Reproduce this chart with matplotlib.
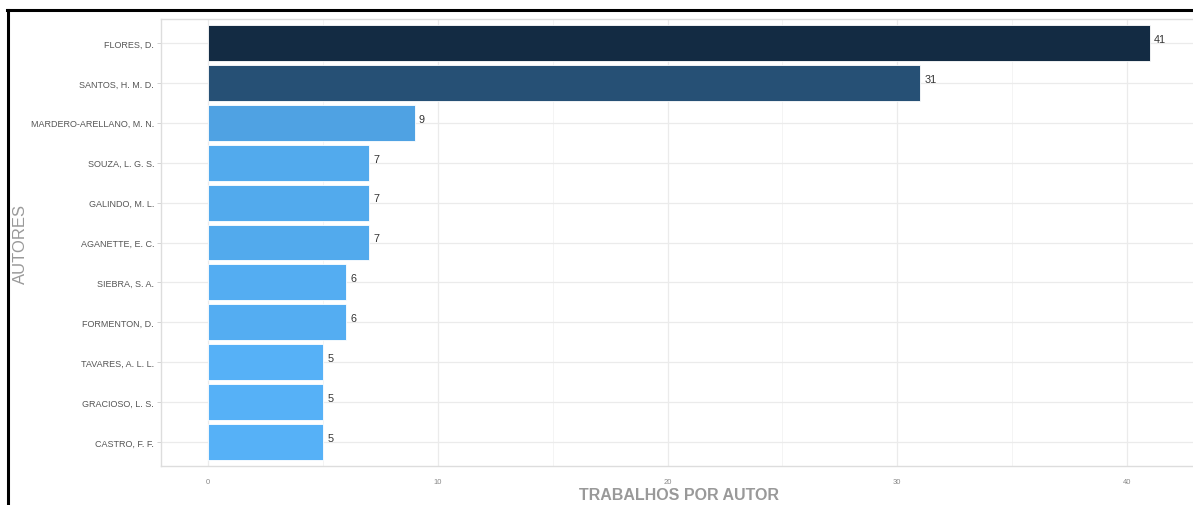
import numpy as np
import matplotlib
matplotlib.use("Agg")
import matplotlib.pyplot as plt
from matplotlib.colors import LinearSegmentedColormap, Normalize
from matplotlib.lines import Line2D

authors = [
    "FLORES, D.", "SANTOS, H. M. D.", "MARDERO-ARELLANO, M. N.", "SOUZA, L. G. S.",
    "GALINDO, M. L.", "AGANETTE, E. C.", "SIEBRA, S. A.", "FORMENTON, D.",
    "TAVARES, A. L. L.", "GRACIOSO, L. S.", "CASTRO, F. F.",
]
works = [41, 31, 9, 7, 7, 7, 6, 6, 5, 5, 5]
xticks = [0, 10, 20, 30, 40]

W, H = 1193, 506
fig = plt.figure(figsize=(W / 100, H / 100), dpi=100)
fig.patch.set_facecolor("white")

# panel in pixels: left 161, right ~1197 (cut off by the screenshot), top 20, bottom 467
ax = fig.add_axes([161 / W, (H - 467) / H, (1197 - 161) / W, (467 - 20) / H])

cmap = LinearSegmentedColormap.from_list("gg", ["#56B1F7", "#132B43"])
norm = Normalize(vmin=min(works), vmax=max(works))

n = len(authors)
ypos = np.arange(n)[::-1] + 1
ax.barh(ypos, works, height=0.9, color=[cmap(norm(v)) for v in works],
        edgecolor="white", linewidth=0.6, zorder=3)

sans = ["Liberation Sans", "DejaVu Sans"]
for y, v in zip(ypos, works):
    ax.annotate(str(v), (v, y), xytext=(3, 3), textcoords="offset points",
                ha="left", va="center", fontsize=7.8, color="#333333",
                family=sans, zorder=4)

ax.set_xlim(-2.05, 43.05)
ax.set_ylim(0.4, n + 0.6)
ax.set_yticks(ypos)
ax.set_yticklabels(authors, family=sans, fontsize=6.5, color="#555555")
ax.set_xticks(xticks)
ax.set_xticklabels([str(t) for t in xticks], family=sans, fontsize=5.5, color="#888888")
ax.set_xticks([5, 15, 25, 35], minor=True)

ax.grid(True, which="major", color="#EBEBEB", linewidth=0.9, zorder=0)
ax.grid(True, which="minor", axis="x", color="#F3F3F3", linewidth=0.6, zorder=0)
ax.set_axisbelow(True)

ax.tick_params(axis="y", length=3, width=0.6, color="#CCCCCC", pad=2)
ax.tick_params(axis="x", which="both", length=0, pad=9)

for side in ["left", "bottom", "top"]:
    ax.spines[side].set_color("#DDDDDD")
    ax.spines[side].set_linewidth(1.0)
ax.spines["right"].set_visible(False)

ax.set_xlabel("TRABALHOS POR AUTOR", fontsize=11.5, fontweight="bold", color="#999999",
              family=sans, labelpad=1)
ax.set_ylabel("AUTORES", fontsize=12, color="#999999", family=sans)
ax.yaxis.set_label_coords(-(161 - 28) / (1197 - 161), 0.5)

# black frame lines from the screenshot (top and left)
fig.add_artist(Line2D([7 / W, 1.0], [(H - 11) / H, (H - 11) / H], color="black",
                      linewidth=2.2, transform=fig.transFigure))
fig.add_artist(Line2D([8 / W, 8 / W], [0, (H - 11) / H], color="black",
                      linewidth=2.2, transform=fig.transFigure))

fig.savefig("out.png", dpi=100)
